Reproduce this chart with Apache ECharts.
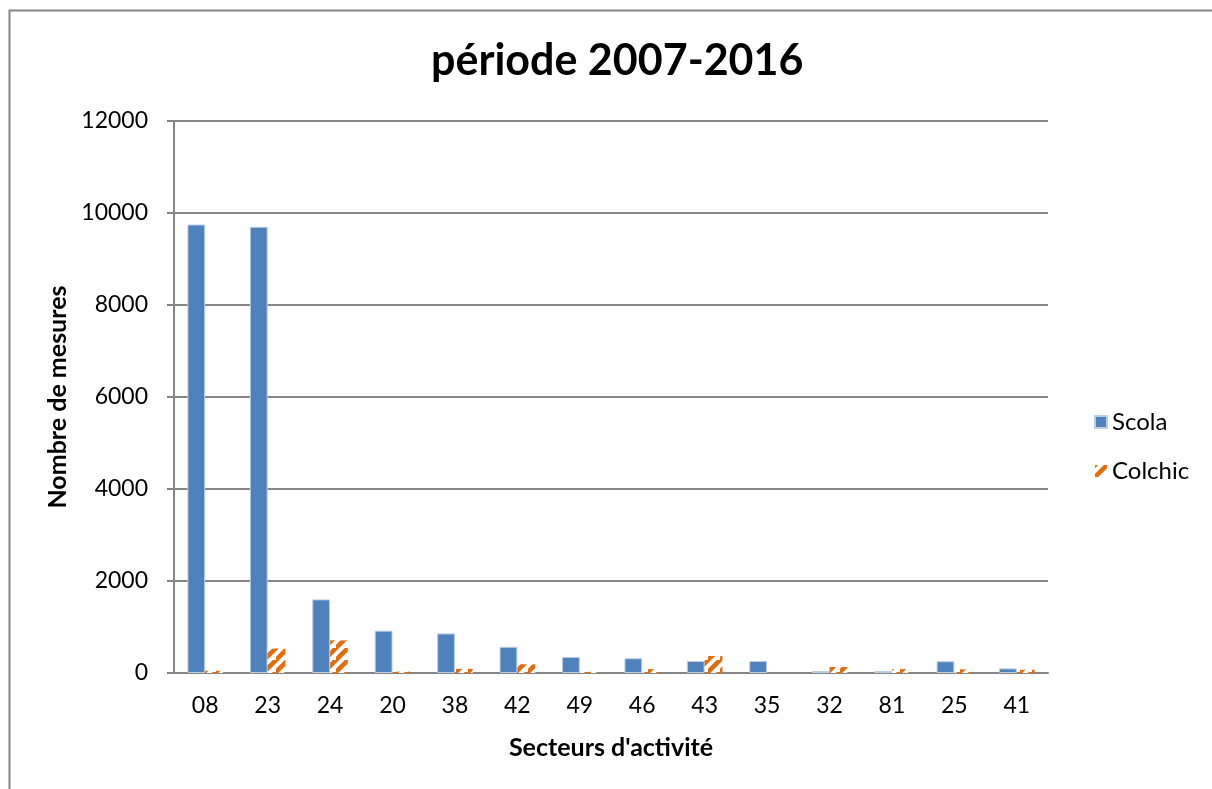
<!DOCTYPE html>
<html>
<head>
<meta charset="utf-8">
<style>
  html, body { margin: 0; padding: 0; background: #ffffff; }
  #chart { width: 1212px; height: 789px; }
</style>
<script src="https://cdn.jsdelivr.net/npm/echarts@6/dist/echarts.min.js"></script>
</head>
<body>
<div id="chart"></div>
<script>
// Activity sectors (codes) and number of measurements per database
const sectors = ['08', '23', '24', '20', '38', '42', '49', '46', '43', '35', '32', '81', '25', '41'];
const scola   = [9750, 9700, 1600, 920, 860, 570, 350, 320, 260, 260, 40, 40, 255, 100];
const colchic = [50, 530, 710, 30, 90, 190, 25, 85, 370, 0, 130, 85, 80, 70];
const yTicks  = [0, 2000, 4000, 6000, 8000, 10000, 12000];

const FONT = 'Lato, "Open Sans", sans-serif';
const BLUE = '#4F81BD';
const ORANGE = '#E46C0A';

// Diagonal hatch fill for the Colchic bars
function hatch() {
  const s = 12;
  const c = document.createElement('canvas');
  c.width = s; c.height = s;
  const g = c.getContext('2d');
  g.fillStyle = '#ffffff';
  g.fillRect(0, 0, s, s);
  g.strokeStyle = ORANGE;
  g.lineWidth = 4.5;
  g.beginPath();
  g.moveTo(-2, s + 2); g.lineTo(s + 2, -2);
  g.moveTo(-2 - s, s + 2); g.lineTo(2, -2);
  g.moveTo(s - 2, 2 * s + 2); g.lineTo(2 * s + 2, s - 2);
  g.stroke();
  return { image: c, repeat: 'repeat' };
}

const chart = echarts.init(document.getElementById('chart'), null, { renderer: 'canvas' });
chart.setOption({
  backgroundColor: '#ffffff',
  animation: false,
  graphic: [{
    type: 'rect',
    left: 7, top: 8,
    shape: { width: 1300, height: 900 },
    style: { fill: 'none', stroke: '#868686', lineWidth: 2 },
    silent: true
  }],
  title: {
    text: 'période 2007-2016',
    left: 426,
    top: 35,
    textStyle: { fontFamily: FONT, fontWeight: 'bold', fontSize: 43, color: '#000' }
  },
  legend: {
    orient: 'vertical',
    left: 1089,
    top: 405,
    itemWidth: 12,
    itemHeight: 12,
    itemGap: 25,
    icon: 'rect',
    textStyle: { fontFamily: FONT, fontSize: 24, color: '#000' },
    data: ['Scola', 'Colchic']
  },
  grid: { left: 174, right: 164, top: 121, bottom: 116, containLabel: false },
  xAxis: {
    type: 'category',
    data: sectors,
    name: "Secteurs d'activité",
    nameLocation: 'middle',
    nameGap: 62,
    nameTextStyle: { fontFamily: FONT, fontWeight: 'bold', fontSize: 25, color: '#000' },
    axisLine: { lineStyle: { color: '#868686', width: 2 } },
    axisTick: { show: false },
    axisLabel: { fontFamily: FONT, fontSize: 23, color: '#000', margin: 21 }
  },
  yAxis: {
    type: 'value',
    min: 0,
    max: 12000,
    interval: 2000,
    name: 'Nombre de mesures',
    nameLocation: 'middle',
    nameGap: 100,
    nameTextStyle: { fontFamily: FONT, fontWeight: 'bold', fontSize: 25, color: '#000' },
    axisLine: { show: true, lineStyle: { color: '#868686', width: 2 } },
    axisTick: { show: true, length: 7, lineStyle: { color: '#868686', width: 2 } },
    axisLabel: {
      fontFamily: FONT, fontSize: 23, color: '#000', margin: 26,
      formatter: v => (yTicks.includes(v) ? String(v) : '')
    },
    splitLine: { lineStyle: { color: '#868686', width: 2 } }
  },
  series: [
    {
      name: 'Scola',
      type: 'bar',
      data: scola,
      barGap: '0%',
      barCategoryGap: '43%',
      itemStyle: { color: BLUE, borderColor: '#B9CDE5', borderWidth: 1 }
    },
    {
      name: 'Colchic',
      type: 'bar',
      data: colchic,
      itemStyle: { color: hatch() }
    }
  ]
});
</script>
</body>
</html>
